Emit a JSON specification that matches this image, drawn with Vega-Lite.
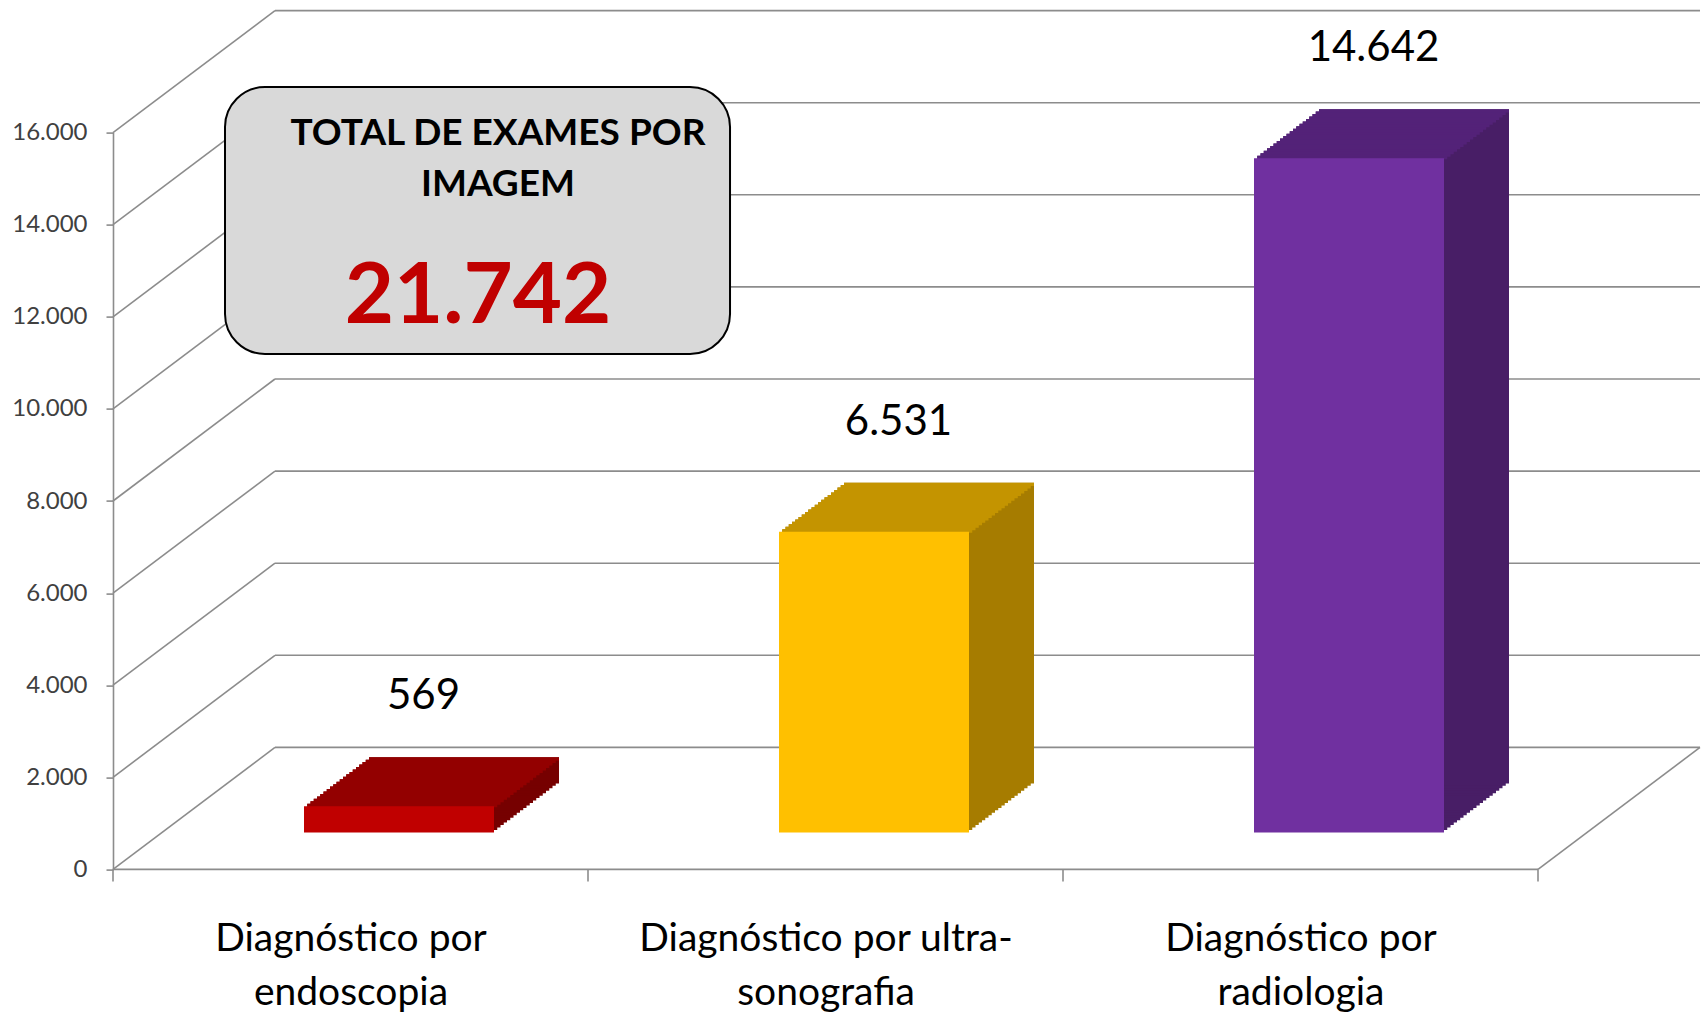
{
"$schema": "https://vega.github.io/schema/vega-lite/v6.json",
"width": 1425, "height": 736.8,
"autosize": {"type": "none"},
"padding": {"left": 113, "top": 132.6, "right": 166, "bottom": 143.6},
"background": "white",
"config": {"view": {"stroke": null}, "font": "Lato", "locale": {"number": {"decimal": ",", "thousands": ".", "grouping": [3], "currency": ["R$", ""]}}},
"datasets": {
 "exams": [
  {"cat": "Diagnóstico por endoscopia", "value": 569},
  {"cat": "Diagnóstico por ultra-sonografia", "value": 6531},
  {"cat": "Diagnóstico por radiologia", "value": 14642}
 ],
 "ticks": [{"v": 0}, {"v": 2000}, {"v": 4000}, {"v": 6000}, {"v": 8000}, {"v": 10000}, {"v": 12000}, {"v": 14000}, {"v": 16000}],
 "bounds": [{"b": 0}, {"b": 1}, {"b": 2}, {"b": 3}]
},
"resolve": {"scale": {"x": "independent", "color": "independent"}, "axis": {"x": "independent"}},
"layer": [
 {"data": {"name": "ticks"},
  "mark": {"type": "rule", "color": "#8c8c8c", "strokeWidth": 1.6, "xOffset": 162, "x2Offset": 162, "yOffset": -122, "y2Offset": -122},
  "encoding": {
   "x": {"datum": 0, "type": "quantitative", "scale": {"domain": [0, 3], "nice": false, "zero": false}, "axis": null},
   "x2": {"datum": 3},
   "y": {"field": "v", "type": "quantitative", "scale": {"domain": [0, 16000], "nice": false},
    "axis": {"title": null, "values": [0, 2000, 4000, 6000, 8000, 10000, 12000, 14000, 16000], "format": ",d", "grid": false, "domain": true, "domainColor": "#8c8c8c", "domainWidth": 1.6, "tickColor": "#8c8c8c", "tickWidth": 1.6, "tickSize": 7, "labelFont": "Lato", "labelFontSize": 24, "labelColor": "#404040", "labelPadding": 19}},
   "y2": {"field": "v"}
  }},
 {"data": {"name": "ticks"},
  "mark": {"type": "rule", "color": "#8c8c8c", "strokeWidth": 1.6, "x2Offset": 162, "y2Offset": -122},
  "encoding": {
   "x": {"datum": 0, "type": "quantitative", "scale": {"domain": [0, 3], "nice": false, "zero": false}, "axis": null},
   "x2": {"datum": 0},
   "y": {"field": "v", "type": "quantitative", "scale": {"domain": [0, 16000], "nice": false},
    "axis": {"title": null, "values": [0, 2000, 4000, 6000, 8000, 10000, 12000, 14000, 16000], "format": ",d", "grid": false, "domain": true, "domainColor": "#8c8c8c", "domainWidth": 1.6, "tickColor": "#8c8c8c", "tickWidth": 1.6, "tickSize": 7, "labelFont": "Lato", "labelFontSize": 24, "labelColor": "#404040", "labelPadding": 19}},
   "y2": {"field": "v"}
  }},
 {"data": {"values": [{}]},
  "mark": {"type": "rule", "color": "#8c8c8c", "strokeWidth": 1.6, "x2Offset": 162, "y2Offset": -122},
  "encoding": {
   "x": {"datum": 3, "type": "quantitative", "scale": {"domain": [0, 3], "nice": false, "zero": false}, "axis": null},
   "x2": {"datum": 3},
   "y": {"datum": 0, "type": "quantitative", "scale": {"domain": [0, 16000], "nice": false},
    "axis": {"title": null, "values": [0, 2000, 4000, 6000, 8000, 10000, 12000, 14000, 16000], "format": ",d", "grid": false, "domain": true, "domainColor": "#8c8c8c", "domainWidth": 1.6, "tickColor": "#8c8c8c", "tickWidth": 1.6, "tickSize": 7, "labelFont": "Lato", "labelFontSize": 24, "labelColor": "#404040", "labelPadding": 19}},
   "y2": {"datum": 0}
  }},
 {"data": {"values": [{}]},
  "mark": {"type": "rule", "color": "#8c8c8c", "strokeWidth": 1.6},
  "encoding": {
   "x": {"datum": 0, "type": "quantitative", "scale": {"domain": [0, 3], "nice": false, "zero": false}, "axis": null},
   "x2": {"datum": 3},
   "y": {"datum": 0, "type": "quantitative", "scale": {"domain": [0, 16000], "nice": false},
    "axis": {"title": null, "values": [0, 2000, 4000, 6000, 8000, 10000, 12000, 14000, 16000], "format": ",d", "grid": false, "domain": true, "domainColor": "#8c8c8c", "domainWidth": 1.6, "tickColor": "#8c8c8c", "tickWidth": 1.6, "tickSize": 7, "labelFont": "Lato", "labelFontSize": 24, "labelColor": "#404040", "labelPadding": 19}}
  }},
 {"data": {"name": "bounds"},
  "mark": {"type": "rule", "color": "#8c8c8c", "strokeWidth": 1.6, "y2Offset": 12},
  "encoding": {
   "x": {"field": "b", "type": "quantitative", "scale": {"domain": [0, 3], "nice": false, "zero": false}, "axis": null},
   "y": {"datum": 0, "type": "quantitative", "scale": {"domain": [0, 16000], "nice": false},
    "axis": {"title": null, "values": [0, 2000, 4000, 6000, 8000, 10000, 12000, 14000, 16000], "format": ",d", "grid": false, "domain": true, "domainColor": "#8c8c8c", "domainWidth": 1.6, "tickColor": "#8c8c8c", "tickWidth": 1.6, "tickSize": 7, "labelFont": "Lato", "labelFontSize": 24, "labelColor": "#404040", "labelPadding": 19}},
   "y2": {"datum": 0}
  }},
 {"data": {"name": "exams"},
  "encoding": {
   "x": {"field": "cat", "type": "nominal", "sort": null, "scale": {"paddingInner": 0.6, "paddingOuter": 0.3}, "axis": null},
   "y": {"field": "value", "type": "quantitative", "scale": {"domain": [0, 16000], "nice": false},
    "axis": {"title": null, "values": [0, 2000, 4000, 6000, 8000, 10000, 12000, 14000, 16000], "format": ",d", "grid": false, "domain": true, "domainColor": "#8c8c8c", "domainWidth": 1.6, "tickColor": "#8c8c8c", "tickWidth": 1.6, "tickSize": 7, "labelFont": "Lato", "labelFontSize": 24, "labelColor": "#404040", "labelPadding": 19}},
   "color": {"field": "cat", "type": "nominal", "scale": {"domain": ["Diagnóstico por endoscopia", "Diagnóstico por ultra-sonografia", "Diagnóstico por radiologia"], "range": ["#760000", "#A67C00", "#481E66"]}, "legend": null}
  },
  "layer": [
   {"mark": {"type": "bar", "xOffset": 51.75, "x2Offset": 51.75, "yOffset": -39.45, "y2Offset": -39.45}},
   {"mark": {"type": "bar", "xOffset": 55, "x2Offset": 55, "yOffset": -41.9, "y2Offset": -41.9}},
   {"mark": {"type": "bar", "xOffset": 58.25, "x2Offset": 58.25, "yOffset": -44.35, "y2Offset": -44.35}},
   {"mark": {"type": "bar", "xOffset": 61.5, "x2Offset": 61.5, "yOffset": -46.8, "y2Offset": -46.8}},
   {"mark": {"type": "bar", "xOffset": 64.75, "x2Offset": 64.75, "yOffset": -49.25, "y2Offset": -49.25}},
   {"mark": {"type": "bar", "xOffset": 68, "x2Offset": 68, "yOffset": -51.7, "y2Offset": -51.7}},
   {"mark": {"type": "bar", "xOffset": 71.25, "x2Offset": 71.25, "yOffset": -54.15, "y2Offset": -54.15}},
   {"mark": {"type": "bar", "xOffset": 74.5, "x2Offset": 74.5, "yOffset": -56.6, "y2Offset": -56.6}},
   {"mark": {"type": "bar", "xOffset": 77.75, "x2Offset": 77.75, "yOffset": -59.05, "y2Offset": -59.05}},
   {"mark": {"type": "bar", "xOffset": 81, "x2Offset": 81, "yOffset": -61.5, "y2Offset": -61.5}},
   {"mark": {"type": "bar", "xOffset": 84.25, "x2Offset": 84.25, "yOffset": -63.95, "y2Offset": -63.95}},
   {"mark": {"type": "bar", "xOffset": 87.5, "x2Offset": 87.5, "yOffset": -66.4, "y2Offset": -66.4}},
   {"mark": {"type": "bar", "xOffset": 90.75, "x2Offset": 90.75, "yOffset": -68.85, "y2Offset": -68.85}},
   {"mark": {"type": "bar", "xOffset": 94, "x2Offset": 94, "yOffset": -71.3, "y2Offset": -71.3}},
   {"mark": {"type": "bar", "xOffset": 97.25, "x2Offset": 97.25, "yOffset": -73.75, "y2Offset": -73.75}},
   {"mark": {"type": "bar", "xOffset": 100.5, "x2Offset": 100.5, "yOffset": -76.2, "y2Offset": -76.2}},
   {"mark": {"type": "bar", "xOffset": 103.75, "x2Offset": 103.75, "yOffset": -78.65, "y2Offset": -78.65}},
   {"mark": {"type": "bar", "xOffset": 107, "x2Offset": 107, "yOffset": -81.1, "y2Offset": -81.1}},
   {"mark": {"type": "bar", "xOffset": 110.25, "x2Offset": 110.25, "yOffset": -83.55, "y2Offset": -83.55}},
   {"mark": {"type": "bar", "xOffset": 113.5, "x2Offset": 113.5, "yOffset": -86, "y2Offset": -86}}
  ]},
 {"data": {"name": "exams"},
  "encoding": {
   "x": {"field": "cat", "type": "nominal", "sort": null, "scale": {"paddingInner": 0.6, "paddingOuter": 0.3}, "axis": null},
   "y": {"field": "value", "type": "quantitative", "scale": {"domain": [0, 16000], "nice": false},
    "axis": {"title": null, "values": [0, 2000, 4000, 6000, 8000, 10000, 12000, 14000, 16000], "format": ",d", "grid": false, "domain": true, "domainColor": "#8c8c8c", "domainWidth": 1.6, "tickColor": "#8c8c8c", "tickWidth": 1.6, "tickSize": 7, "labelFont": "Lato", "labelFontSize": 24, "labelColor": "#404040", "labelPadding": 19}},
   "y2": {"field": "value"},
   "color": {"field": "cat", "type": "nominal", "scale": {"domain": ["Diagnóstico por endoscopia", "Diagnóstico por ultra-sonografia", "Diagnóstico por radiologia"], "range": ["#930000", "#C49400", "#532278"]}, "legend": null}
  },
  "layer": [
   {"mark": {"type": "bar", "xOffset": 51.75, "x2Offset": 51.75, "yOffset": -39.45, "y2Offset": -36}},
   {"mark": {"type": "bar", "xOffset": 55, "x2Offset": 55, "yOffset": -41.9, "y2Offset": -38.45}},
   {"mark": {"type": "bar", "xOffset": 58.25, "x2Offset": 58.25, "yOffset": -44.35, "y2Offset": -40.9}},
   {"mark": {"type": "bar", "xOffset": 61.5, "x2Offset": 61.5, "yOffset": -46.8, "y2Offset": -43.35}},
   {"mark": {"type": "bar", "xOffset": 64.75, "x2Offset": 64.75, "yOffset": -49.25, "y2Offset": -45.8}},
   {"mark": {"type": "bar", "xOffset": 68, "x2Offset": 68, "yOffset": -51.7, "y2Offset": -48.25}},
   {"mark": {"type": "bar", "xOffset": 71.25, "x2Offset": 71.25, "yOffset": -54.15, "y2Offset": -50.7}},
   {"mark": {"type": "bar", "xOffset": 74.5, "x2Offset": 74.5, "yOffset": -56.6, "y2Offset": -53.15}},
   {"mark": {"type": "bar", "xOffset": 77.75, "x2Offset": 77.75, "yOffset": -59.05, "y2Offset": -55.6}},
   {"mark": {"type": "bar", "xOffset": 81, "x2Offset": 81, "yOffset": -61.5, "y2Offset": -58.05}},
   {"mark": {"type": "bar", "xOffset": 84.25, "x2Offset": 84.25, "yOffset": -63.95, "y2Offset": -60.5}},
   {"mark": {"type": "bar", "xOffset": 87.5, "x2Offset": 87.5, "yOffset": -66.4, "y2Offset": -62.95}},
   {"mark": {"type": "bar", "xOffset": 90.75, "x2Offset": 90.75, "yOffset": -68.85, "y2Offset": -65.4}},
   {"mark": {"type": "bar", "xOffset": 94, "x2Offset": 94, "yOffset": -71.3, "y2Offset": -67.85}},
   {"mark": {"type": "bar", "xOffset": 97.25, "x2Offset": 97.25, "yOffset": -73.75, "y2Offset": -70.3}},
   {"mark": {"type": "bar", "xOffset": 100.5, "x2Offset": 100.5, "yOffset": -76.2, "y2Offset": -72.75}},
   {"mark": {"type": "bar", "xOffset": 103.75, "x2Offset": 103.75, "yOffset": -78.65, "y2Offset": -75.2}},
   {"mark": {"type": "bar", "xOffset": 107, "x2Offset": 107, "yOffset": -81.1, "y2Offset": -77.65}},
   {"mark": {"type": "bar", "xOffset": 110.25, "x2Offset": 110.25, "yOffset": -83.55, "y2Offset": -80.1}},
   {"mark": {"type": "bar", "xOffset": 113.5, "x2Offset": 113.5, "yOffset": -86, "y2Offset": -82.55}}
  ]},
 {"data": {"name": "exams"},
  "mark": {"type": "bar", "xOffset": 48.5, "x2Offset": 48.5, "yOffset": -37, "y2Offset": -37},
  "encoding": {
   "x": {"field": "cat", "type": "nominal", "sort": null, "scale": {"paddingInner": 0.6, "paddingOuter": 0.3}, "axis": null},
   "y": {"field": "value", "type": "quantitative", "scale": {"domain": [0, 16000], "nice": false},
    "axis": {"title": null, "values": [0, 2000, 4000, 6000, 8000, 10000, 12000, 14000, 16000], "format": ",d", "grid": false, "domain": true, "domainColor": "#8c8c8c", "domainWidth": 1.6, "tickColor": "#8c8c8c", "tickWidth": 1.6, "tickSize": 7, "labelFont": "Lato", "labelFontSize": 24, "labelColor": "#404040", "labelPadding": 19}},
   "color": {"field": "cat", "type": "nominal", "scale": {"domain": ["Diagnóstico por endoscopia", "Diagnóstico por ultra-sonografia", "Diagnóstico por radiologia"], "range": ["#C00000", "#FFC000", "#7030A0"]}, "legend": null}
  }},
 {"data": {"name": "exams"},
  "mark": {"type": "text", "font": "Lato", "fontSize": 42, "color": "#000000", "dx": 73, "dy": -147, "baseline": "middle"},
  "encoding": {
   "x": {"field": "cat", "type": "nominal", "sort": null, "scale": {"paddingInner": 0.6, "paddingOuter": 0.3},
    "axis": {"title": null, "domain": false, "ticks": false, "labelAngle": 0, "labelFont": "Lato", "labelFontSize": 39, "labelColor": "#000000", "labelPadding": 50, "labelLineHeight": 54, "labelBaseline": "top", "labelLimit": 0, "labelOverlap": false,
     "labelExpr": "datum.value == 'Diagnóstico por ultra-sonografia' ? ['Diagnóstico por ultra-', 'sonografia'] : ['Diagnóstico por', slice(datum.value, 16)]"}},
   "y": {"field": "value", "type": "quantitative", "scale": {"domain": [0, 16000], "nice": false},
    "axis": {"title": null, "values": [0, 2000, 4000, 6000, 8000, 10000, 12000, 14000, 16000], "format": ",d", "grid": false, "domain": true, "domainColor": "#8c8c8c", "domainWidth": 1.6, "tickColor": "#8c8c8c", "tickWidth": 1.6, "tickSize": 7, "labelFont": "Lato", "labelFontSize": 24, "labelColor": "#404040", "labelPadding": 19}},
   "text": {"field": "value", "type": "quantitative", "format": ",d"}
  }},
 {"data": {"values": [{}]},
  "mark": {"type": "rect", "fill": "#D9D9D9", "stroke": "#000000", "strokeWidth": 2, "cornerRadius": 40},
  "encoding": {
   "x": {"datum": 0.2358, "type": "quantitative", "scale": {"domain": [0, 3], "nice": false, "zero": false}, "axis": null},
   "x2": {"datum": 1.299},
   "y": {"datum": 16990, "type": "quantitative", "scale": {"domain": [0, 16000], "nice": false},
    "axis": {"title": null, "values": [0, 2000, 4000, 6000, 8000, 10000, 12000, 14000, 16000], "format": ",d", "grid": false, "domain": true, "domainColor": "#8c8c8c", "domainWidth": 1.6, "tickColor": "#8c8c8c", "tickWidth": 1.6, "tickSize": 7, "labelFont": "Lato", "labelFontSize": 24, "labelColor": "#404040", "labelPadding": 19}},
   "y2": {"datum": 11192}
  }},
 {"data": {"values": [{}]},
  "mark": {"type": "text", "text": ["TOTAL DE EXAMES POR", "IMAGEM"], "font": "Lato", "fontSize": 37, "fontWeight": "bold", "color": "#000000", "lineHeight": 51, "baseline": "middle", "align": "center"},
  "encoding": {
   "x": {"datum": 0.8105, "type": "quantitative", "scale": {"domain": [0, 3], "nice": false, "zero": false}, "axis": null},
   "y": {"datum": 15970, "type": "quantitative", "scale": {"domain": [0, 16000], "nice": false},
    "axis": {"title": null, "values": [0, 2000, 4000, 6000, 8000, 10000, 12000, 14000, 16000], "format": ",d", "grid": false, "domain": true, "domainColor": "#8c8c8c", "domainWidth": 1.6, "tickColor": "#8c8c8c", "tickWidth": 1.6, "tickSize": 7, "labelFont": "Lato", "labelFontSize": 24, "labelColor": "#404040", "labelPadding": 19}}
  }},
 {"data": {"name": "exams"},
  "transform": [{"aggregate": [{"op": "sum", "field": "value", "as": "total"}]}],
  "mark": {"type": "text", "font": "Lato", "fontSize": 85, "fontWeight": "bold", "color": "#C00000", "baseline": "middle", "align": "center"},
  "encoding": {
   "x": {"datum": 0.7684, "type": "quantitative", "scale": {"domain": [0, 3], "nice": false, "zero": false}, "axis": null},
   "y": {"datum": 12420, "type": "quantitative", "scale": {"domain": [0, 16000], "nice": false},
    "axis": {"title": null, "values": [0, 2000, 4000, 6000, 8000, 10000, 12000, 14000, 16000], "format": ",d", "grid": false, "domain": true, "domainColor": "#8c8c8c", "domainWidth": 1.6, "tickColor": "#8c8c8c", "tickWidth": 1.6, "tickSize": 7, "labelFont": "Lato", "labelFontSize": 24, "labelColor": "#404040", "labelPadding": 19}},
   "text": {"field": "total", "type": "quantitative", "format": ",d"}
  }}
]
}
